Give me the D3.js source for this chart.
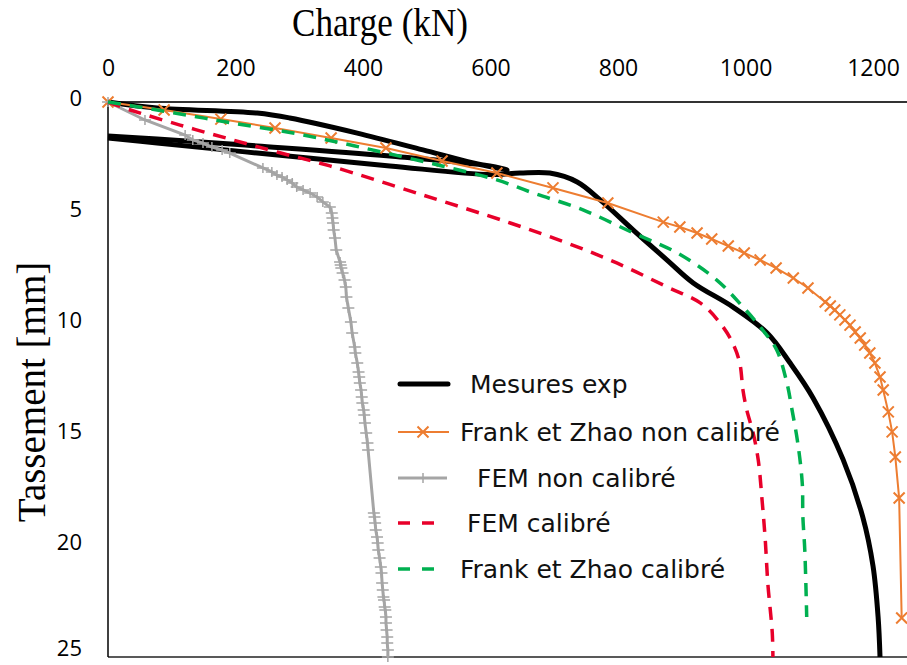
<!DOCTYPE html>
<html>
<head>
<meta charset="utf-8">
<script src="https://cdn.jsdelivr.net/npm/d3@7"></script>
<style>
  body { margin: 0; background: #fff; }
  svg { display: block; }
</style>
</head>
<body>
<svg width="907" height="665"></svg>
<script>
// [charge kN, tassement mm]
// loading, unloading, then reloading (the break index splits the path)
const mesuresExp = [
  [0, 0], [77, 0.27], [234, 0.5], [285, 0.72], [391, 1.4], [494, 2.16], [573, 2.75], [626, 3.06],
  [599, 2.88], [442, 2.43], [234, 1.98], [77, 1.67], [0, 1.53],
  [0, 1.62], [77, 1.85], [234, 2.3], [442, 2.88], [599, 3.27], [646, 3.2], [693, 3.2],
  [736, 3.6], [772, 4.41], [824, 5.77], [877, 7.12], [918, 8.15], [980, 9.23], [1034, 10.41],
  [1070, 11.76], [1106, 13.33], [1153, 16.1], [1184, 18.7], [1200, 20.9], [1208, 23.2], [1211, 25]
];
const reloadStart = 13;

const frankNonCalibre = [
  [0, 0], [88, 0.36], [177, 0.77], [262, 1.17], [350, 1.62], [436, 2.07], [524, 2.66], [610, 3.2],
  [698, 3.87], [784, 4.55], [871, 5.41], [897, 5.63], [924, 5.9], [947, 6.17], [973, 6.49],
  [998, 6.8], [1023, 7.12], [1048, 7.48], [1075, 7.93], [1098, 8.38], [1125, 9.01], [1133, 9.19],
  [1140, 9.37], [1148, 9.59], [1156, 9.82], [1164, 10.05], [1172, 10.36], [1180, 10.63],
  [1187, 10.95], [1195, 11.31], [1203, 11.76], [1211, 12.39], [1216, 12.97], [1224, 13.96],
  [1230, 14.86], [1235, 15.99], [1241, 17.84], [1245, 23.24]
];

const femNonCalibre = [
  [0, 0], [58, 0.81], [121, 1.49], [133, 1.71], [149, 1.85], [163, 2.03], [179, 2.16], [191, 2.3],
  [243, 2.97], [257, 3.15], [265, 3.29], [273, 3.38], [281, 3.51], [289, 3.65], [296, 3.83],
  [306, 3.96], [317, 4.1], [328, 4.28], [337, 4.5], [348, 4.73], [351, 5.0], [352, 5.23],
  [353, 5.45], [354, 5.77], [356, 6.13], [358, 6.67], [364, 7.21], [365, 7.34], [366, 7.48],
  [368, 7.7], [371, 8.02], [373, 8.33], [374, 8.78], [377, 9.28], [381, 9.91], [383, 10.41],
  [387, 11.04], [388, 11.31], [391, 11.76], [393, 12.16], [394, 12.39], [395, 12.66], [397, 12.97],
  [398, 13.29], [399, 13.56], [401, 13.87], [402, 14.1], [403, 14.46], [405, 14.91], [407, 15.36],
  [408, 15.68], [417, 18.51], [418, 18.69], [419, 18.96], [420, 19.28], [422, 19.59], [423, 19.86],
  [424, 20.18], [426, 20.54], [428, 20.95], [429, 21.22], [430, 21.67], [431, 21.98], [432, 22.3],
  [433, 22.43], [434, 22.75], [435, 22.88], [436, 23.2], [436, 23.47], [437, 23.78], [438, 24.1],
  [438, 24.37], [439, 24.68], [439, 25]
];

const femCalibre = [
  [0, 0], [35, 0.36], [113, 1.04], [191, 1.67], [265, 2.25], [348, 2.88], [494, 4.19], [631, 5.45],
  [720, 6.35], [798, 7.25], [877, 8.33], [929, 9.05], [960, 9.95], [980, 10.86], [991, 11.76],
  [996, 12.97], [1002, 13.87], [1012, 14.91], [1020, 16.13], [1026, 17.93], [1031, 19.73],
  [1035, 21.67], [1042, 23.92], [1043, 25]
];

const frankCalibre = [
  [0, 0], [50, 0.23], [124, 0.59], [196, 0.95], [281, 1.35], [359, 1.8], [436, 2.3], [524, 2.88],
  [610, 3.51], [667, 4.1], [745, 4.86], [824, 5.9], [893, 6.8], [955, 8.02], [996, 9.23],
  [1027, 10.27], [1049, 11.17], [1065, 12.66], [1073, 13.87], [1082, 15.36], [1089, 17.16],
  [1090, 18.69], [1093, 20.18], [1096, 23.2]
];

const xTicks = [0, 200, 400, 600, 800, 1000, 1200];
const yTicks = [0, 5, 10, 15, 20, 25];
const legendNames = ["Mesures exp", "Frank et Zhao non calibré", "FEM non calibré", "FEM calibré", "Frank et Zhao calibré"];

const width = 907;
const height = 665;
const svg = d3.select("svg");

const x = d3.scaleLinear().domain([0, 1200]).range([108, 873]);
const y = d3.scaleLinear().domain([0, 25]).range([102, 657]);

// axes
svg.append("line")
  .attr("x1", x(0)).attr("x2", width)
  .attr("y1", y(25)).attr("y2", y(25))
  .attr("stroke", "#595959").attr("stroke-width", 2);
svg.append("line")
  .attr("x1", x(0)).attr("x2", x(0))
  .attr("y1", y(0)).attr("y2", y(25))
  .attr("stroke", "#000").attr("stroke-width", 1.5);
svg.append("line")
  .attr("x1", x(0)).attr("x2", width)
  .attr("y1", y(0)).attr("y2", y(0))
  .attr("stroke", "#333").attr("stroke-width", 2);

const xAxis = svg.append("g")
  .attr("transform", `translate(0, 76)`)
  .call(d3.axisTop(x).tickValues(xTicks).tickSize(0).tickPadding(0).tickFormat(d3.format("d")));
xAxis.select(".domain").remove();
xAxis.selectAll("text")
  .attr("font-family", "Open Sans").attr("font-size", 23).attr("fill", "#000");

const yAxis = svg.append("g")
  .attr("transform", `translate(82, -4)`)
  .call(d3.axisLeft(y).tickValues(yTicks).tickSize(0).tickPadding(0));
yAxis.select(".domain").remove();
yAxis.selectAll("text")
  .attr("font-family", "Open Sans").attr("font-size", 22).attr("fill", "#000");
// bottom label sits at the picture edge: keep it inside
yAxis.selectAll("text").filter((d) => d === 25).attr("dy", "0.1em");

// titles
svg.append("text")
  .attr("transform", "translate(380, 36) scale(0.95, 1.1)")
  .attr("text-anchor", "middle")
  .attr("font-family", "Liberation Serif").attr("font-size", 37)
  .text("Charge (kN)");
svg.append("text")
  .attr("transform", `translate(45, 392) rotate(-90)`)
  .attr("text-anchor", "middle")
  .attr("font-family", "Liberation Serif").attr("font-size", 39)
  .text("Tassement [mm]");

const smooth = d3.line().x((d) => x(d[0])).y((d) => y(d[1])).curve(d3.curveCatmullRom.alpha(0.5));
const straight = d3.line().x((d) => x(d[0])).y((d) => y(d[1]));

const plot = svg.append("g");

plot.append("path")
  .attr("d", smooth(mesuresExp.slice(0, reloadStart)))
  .attr("fill", "none").attr("stroke", "#000").attr("stroke-width", 5)
  .attr("stroke-linejoin", "round");
plot.append("path")
  .attr("d", smooth(mesuresExp.slice(reloadStart)))
  .attr("fill", "none").attr("stroke", "#000").attr("stroke-width", 5)
  .attr("stroke-linejoin", "round");

// orange with x markers
plot.append("path")
  .attr("d", straight(frankNonCalibre))
  .attr("fill", "none").attr("stroke", "#ED7D31").attr("stroke-width", 2);
const cross = "M-5.5,-5.5L5.5,5.5M-5.5,5.5L5.5,-5.5";
plot.selectAll(".xmark")
  .data(frankNonCalibre)
  .enter()
  .append("path")
  .attr("transform", (d) => `translate(${x(d[0])}, ${y(d[1])})`)
  .attr("d", cross)
  .attr("stroke", "#ED7D31").attr("stroke-width", 2);

// gray with + markers
plot.append("path")
  .attr("d", straight(femNonCalibre))
  .attr("fill", "none").attr("stroke", "#A5A5A5").attr("stroke-width", 3);
const plus = "M-6,0L6,0M0,-5L0,5";
plot.selectAll(".pmark")
  .data(femNonCalibre)
  .enter()
  .append("path")
  .attr("transform", (d) => `translate(${x(d[0])}, ${y(d[1])})`)
  .attr("d", plus)
  .attr("stroke", "#A5A5A5").attr("stroke-width", 1.5);

plot.append("path")
  .attr("d", smooth(femCalibre))
  .attr("fill", "none").attr("stroke", "#E8002A").attr("stroke-width", 3.5)
  .attr("stroke-dasharray", "13,9");

plot.append("path")
  .attr("d", smooth(frankCalibre))
  .attr("fill", "none").attr("stroke", "#00B050").attr("stroke-width", 3.5)
  .attr("stroke-dasharray", "13,9");

// Legends
const legendY = [384, 432, 478, 523, 569];
const legendX = [470, 460, 477, 467, 460];
const legend = svg.append("g")
  .selectAll("g")
  .data(legendNames)
  .enter()
  .append("g")
  .attr("transform", (d, i) => `translate(0, ${legendY[i]})`);

legend.append("text")
  .text((d) => d)
  .attr("x", (d, i) => legendX[i])
  .attr("dy", "0.36em")
  .attr("font-family", "DejaVu Sans").attr("font-size", 25)
  .attr("fill", "#111");

const lg = legend.nodes().map((n) => d3.select(n));
lg[0].append("line").attr("x1", 400).attr("x2", 448)
  .attr("stroke", "#000").attr("stroke-width", 5).attr("stroke-linecap", "round");
lg[1].append("line").attr("x1", 398).attr("x2", 449)
  .attr("stroke", "#ED7D31").attr("stroke-width", 2);
lg[1].append("path").attr("transform", "translate(423,0)").attr("d", cross)
  .attr("stroke", "#ED7D31").attr("stroke-width", 2);
lg[2].append("line").attr("x1", 398).attr("x2", 447)
  .attr("stroke", "#A5A5A5").attr("stroke-width", 3);
lg[2].append("path").attr("transform", "translate(423,0)").attr("d", plus)
  .attr("stroke", "#A5A5A5").attr("stroke-width", 1.5);
lg[3].append("line").attr("x1", 398).attr("x2", 436)
  .attr("stroke", "#E8002A").attr("stroke-width", 3.5).attr("stroke-dasharray", "12,12");
lg[4].append("line").attr("x1", 398).attr("x2", 436)
  .attr("stroke", "#00B050").attr("stroke-width", 3.5).attr("stroke-dasharray", "12,12");
</script>
</body>
</html>
